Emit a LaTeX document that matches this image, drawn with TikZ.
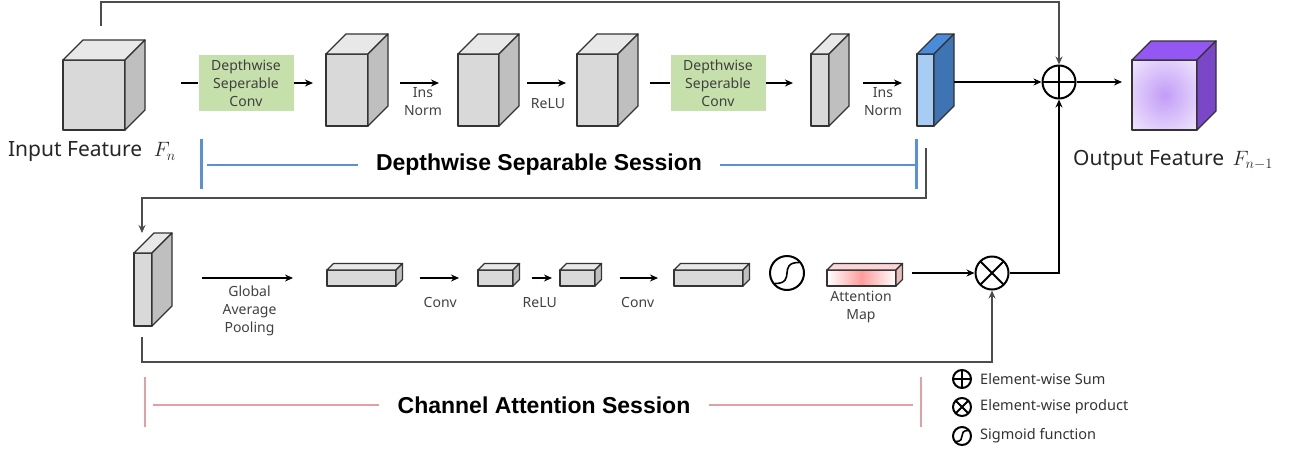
\documentclass[tikz,border=0pt]{standalone}
\usepackage{fontspec}
\setmainfont{Noto Sans}
\newfontfamily\titlefont{Liberation Sans}
\usepackage{tikz}
\usetikzlibrary{positioning, arrows.meta}

\definecolor{cubefront}{HTML}{D9D9D9}
\definecolor{cubetop}{HTML}{E8E8E8}
\definecolor{cubeside}{HTML}{BFBFBF}
\definecolor{convgreen}{HTML}{C6E0AB}
\definecolor{normfront}{HTML}{A8CDF5}
\definecolor{normtop}{HTML}{4A8BDB}
\definecolor{normside}{HTML}{3E73B4}
\definecolor{outmid}{HTML}{C29CF7}
\definecolor{outedge}{HTML}{F6F0FE}
\definecolor{outtop}{HTML}{9457F4}
\definecolor{outside}{HTML}{7A47C9}
\definecolor{attmid}{HTML}{FF9C9C}
\definecolor{atttop}{HTML}{FAD6D6}
\definecolor{attside}{HTML}{E9BDBD}
\definecolor{dsblue}{HTML}{5B90D8}
\definecolor{capink}{HTML}{E2A0A4}

\pgfdeclareradialshading{outglow}{\pgfpoint{0bp}{0bp}}{color(0bp)=(outmid); color(40bp)=(outedge); color(50bp)=(outedge)}

\tikzstyle{cubeline} = [draw=black!80, line width=1.3pt, line join=round]
\tikzstyle{cubebox} = [rectangle, inner sep=0pt, outer sep=0pt]
\tikzstyle{process} = [rectangle, minimum width=95pt, minimum height=56pt, inner sep=2pt, fill=convgreen, text=black!75, align=center, font=\fontsize{14}{18}\selectfont]
\tikzstyle{arrow} = [line width=1.3pt, ->, >={Stealth[length=8pt, width=7pt]}]
\tikzstyle{plainline} = [line width=1.3pt]
\tikzstyle{skipline} = [line width=1.6pt, draw=black!70, ->, >={Stealth[length=8pt, width=7pt]}]
\tikzstyle{lbl} = [text=black!75, align=center, inner sep=1pt, font=\fontsize{14}{18}\selectfont]
\tikzstyle{feature} = [text=black!85, inner sep=1pt, font=\fontsize{21}{26}\selectfont]
\tikzstyle{session} = [inner sep=18pt, font=\titlefont\bfseries\fontsize{23}{28}\selectfont]
\tikzstyle{legend} = [inner sep=0pt, text=black!80, font=\fontsize{14.5}{18}\selectfont]
\tikzstyle{dsrule} = [draw=dsblue, line width=2pt]
\tikzstyle{carule} = [draw=capink, line width=2pt]

\tikzset{
  sumop/.style={circle, draw, line width=2pt, minimum size=2*#1, inner sep=0pt,
    path picture={\draw[line width=2pt] (path picture bounding box.north) -- (path picture bounding box.south)
      (path picture bounding box.west) -- (path picture bounding box.east);}},
  prodop/.style={circle, draw, line width=2pt, minimum size=2*#1, inner sep=0pt,
    path picture={\draw[line width=2pt] (path picture bounding box.north west) -- (path picture bounding box.south east)
      (path picture bounding box.north east) -- (path picture bounding box.south west);}},
  sigmoid/.style={circle, draw, line width=2pt, minimum size=2*#1, inner sep=0pt,
    path picture={\draw[line width=1.6pt] ([xshift=-0.72*#1, yshift=-0.62*#1]path picture bounding box.center)
      .. controls ([xshift=0.6*#1, yshift=-0.62*#1]path picture bounding box.center)
      and ([xshift=-0.6*#1, yshift=0.62*#1]path picture bounding box.center)
      .. ([xshift=0.72*#1, yshift=0.62*#1]path picture bounding box.center);}}
}

% feature block: name, front top-left x, y, width, height, depth, front, top, side
\newcommand{\featcube}[9]{%
  \path[cubeline, #7] (#2,#3) rectangle ++(#4,#5);
  \filldraw[cubeline, fill=#8] (#2,#3) -- ++(#6,-#6) -- ++(#4,0) -- ++(-#6,#6) -- cycle;
  \filldraw[cubeline, fill=#9] (#2+#4,#3) -- ++(#6,-#6) -- ++(0,#5) -- ++(-#6,#6) -- cycle;
  \node[cubebox, minimum width=#4+#6, minimum height=#5+#6] (#1) at (#2+#4/2+#6/2, #3+#5/2-#6/2) {};
}

\begin{document}
\begin{tikzpicture}[x=1pt, y=-1pt]
    \useasboundingbox (0,0) rectangle (1289,450);

    % depthwise separable session
    \featcube{in cube}{63}{60}{62}{70}{20}{fill=cubefront}{cubetop}{cubeside}
    \featcube{cube 2}{326}{54}{42}{72}{20}{fill=cubefront}{cubetop}{cubeside}
    \featcube{cube 3}{458}{54}{41}{72}{20}{fill=cubefront}{cubetop}{cubeside}
    \featcube{cube 4}{577}{54}{41}{72}{20}{fill=cubefront}{cubetop}{cubeside}
    \featcube{cube 5}{811}{54}{18}{72}{20}{fill=cubefront}{cubetop}{cubeside}
    \featcube{cube 6}{917}{54}{17}{72}{20}{fill=normfront}{normtop}{normside}
    \featcube{out cube}{1132}{60}{65}{70}{19}{shade, shading=outglow}{outtop}{outside}

    \coordinate (row) at (0,83);
    \node[process] (dsc 1) at (246,83) {Depthwise\\Seperable\\Conv};
    \node[process] (dsc 2) at (718,83) {Depthwise\\Seperable\\Conv};
    \node[sumop=16.5] (sum) at (1059,82) {};

    \node[feature] (in label)  at (92,152)   {Input Feature\hspace{0.55em}$F_n$};
    \node[feature] (out label) at (1173,160) {Output Feature\hspace{0.4em}$F_{n-1}$};

    \draw[plainline, shorten <=36pt] (in cube.east |- row) -- (dsc 1.west);
    \draw[arrow, shorten >=13pt] (dsc 1.east) -- (cube 2.west |- row);
    \draw[arrow, shorten <=12pt, shorten >=19pt] (cube 2.east |- row) -- node[lbl, below=3pt] {Ins\\Norm} (cube 3.west |- row);
    \draw[arrow, shorten <=8pt, shorten >=11pt] (cube 3.east |- row) -- node[lbl, below=14pt] {ReLU} (cube 4.west |- row);
    \draw[plainline, shorten <=12pt] (cube 4.east |- row) -- (dsc 2.west);
    \draw[arrow, shorten >=18pt] (dsc 2.east) -- (cube 5.west |- row);
    \draw[arrow, shorten <=14pt, shorten >=15pt] (cube 5.east |- row) -- node[lbl, below=3pt] {Ins\\Norm} (cube 6.west |- row);
    \draw[arrow] (cube 6.east |- sum) -- (sum.west);
    \draw[arrow, shorten >=10pt] (sum.east) -- (sum -| out cube.west);

    \coordinate (skip) at (101,26);
    \draw[skipline] (skip) -- ++(0,-24) -| (sum.north);

    \node[session] (ds title) at (539,165) {Depthwise Separable Session};
    \coordinate (ds left) at (201,165);
    \coordinate (ds right) at (916,165);
    \draw[dsrule, line width=3pt] (ds left) ++(0,-26) -- ++(0,50);
    \draw[dsrule, line width=3pt] (ds right) ++(0,-26) -- ++(0,50);
    \draw[dsrule, shorten <=6pt] (ds left) -- (ds title.west);
    \draw[dsrule] (ds title.east) -- (ds right);

    % channel attention session
    \featcube{b cube}{134}{253}{18}{73}{20}{fill=cubefront}{cubetop}{cubeside}
    \featcube{pool}{327}{270}{69}{16}{6.5}{fill=cubefront}{cubetop}{cubeside}
    \featcube{fc 1}{478}{270}{35}{16}{6.5}{fill=cubefront}{cubetop}{cubeside}
    \featcube{fc 2}{560}{270}{35}{16}{6.5}{fill=cubefront}{cubetop}{cubeside}
    \featcube{fc 3}{674}{270}{69}{16}{6.5}{fill=cubefront}{cubetop}{cubeside}
    \featcube{att map}{827}{270}{69}{16}{6.5}{left color=white, right color=white, middle color=attmid}{atttop}{attside}

    \coordinate (row 2) at (0,278);
    \node[sigmoid=17] (sig) at (787,273) {};
    \node[prodop=16.5] (prod) at (992,273) {};
    \node[lbl] (att label) at (861,307) {Attention\\Map};

    \coordinate (ds end) at (926,148);
    \draw[skipline] (ds end) -- ++(0,50) -| ([xshift=-11pt]b cube.north);
    \draw[arrow, shorten <=30pt, shorten >=34pt] (b cube.east |- row 2) -- node[lbl, below=6pt] {Global\\Average\\Pooling} (pool.west |- row 2);
    \draw[arrow, shorten <=17pt, shorten >=19pt] (pool.east |- row 2) -- node[lbl, below=18pt] {Conv} (fc 1.west |- row 2);
    \draw[arrow, shorten <=12pt, shorten >=8pt] (fc 1.east |- row 2) -- node[lbl, below=18pt] {ReLU} (fc 2.west |- row 2);
    \draw[arrow, shorten <=18pt, shorten >=16pt] (fc 2.east |- row 2) -- node[lbl, below=18pt] {Conv} (fc 3.west |- row 2);
    \draw[arrow, shorten <=9pt] (att map.east |- prod) -- (prod.west);
    \draw[arrow] (prod.east) -| (sum.south);
    \draw[skipline] ([xshift=-11pt, yshift=-11pt]b cube.south) -- ++(0,25) -| (prod.south);

    \node[session] (ca title) at (544,405) {Channel Attention Session};
    \coordinate (ca left) at (145,405);
    \coordinate (ca right) at (921,405);
    \draw[carule] (ca left) ++(0,-28) -- ++(0,50);
    \draw[carule] (ca right) ++(0,-28) -- ++(0,50);
    \draw[carule, shorten <=8pt] (ca left) -- (ca title.west);
    \draw[carule, shorten >=8pt] (ca title.east) -- (ca right);

    % legend
    \node[sumop=9] (leg sum) at (962,379) {};
    \node[prodop=9] (leg prod) at (962,407) {};
    \node[sigmoid=9] (leg sig) at (962,436) {};
    \node[legend, right=8pt of leg sum] {Element-wise Sum};
    \node[legend, right=8pt of leg prod] {Element-wise product};
    \node[legend, right=8pt of leg sig] {Sigmoid function};
\end{tikzpicture}
\end{document}
